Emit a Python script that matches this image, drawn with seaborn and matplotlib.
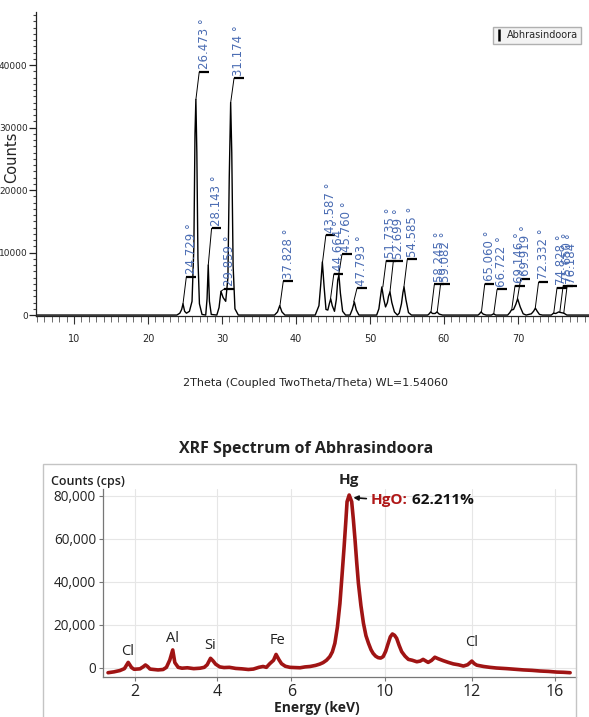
import numpy as np
import matplotlib
matplotlib.use('Agg')
import matplotlib.pyplot as plt
import seaborn as sns
from matplotlib.lines import Line2D
from matplotlib.patches import Rectangle
from matplotlib.ticker import MultipleLocator, FuncFormatter

sns.set_theme(style='ticks')
plt.rcParams['font.family'] = ['DejaVu Sans']

# ---- XRD pattern ----
xrd_2theta = [4.9, 23.9, 24.3, 24.55, 24.73, 24.95, 25.2, 25.6, 25.95, 26.2,
              26.35, 26.47, 26.6, 26.75, 26.95, 27.3, 27.8, 27.98, 28.14, 28.3,
              28.55, 29.3, 29.6, 29.86, 30.15, 30.5, 30.8, 30.98, 31.17, 31.32,
              31.5, 31.75, 32.2, 37.1, 37.5, 37.8, 38.1, 38.5, 42.6, 43.1,
              43.35, 43.56, 43.8, 44.05, 44.3, 44.5, 44.69, 44.9, 45.2, 45.45,
              45.64, 45.8, 46.0, 46.3, 46.7, 47.3, 47.6, 47.88, 48.15, 48.5,
              50.9, 51.2, 51.4, 51.6, 51.85, 52.1, 52.35, 52.5, 52.7, 52.95,
              53.3, 53.7, 53.95, 54.25, 54.45, 54.6, 54.85, 55.2, 55.6, 57.8,
              58.0, 58.2, 58.45, 58.8, 59.05, 59.35, 59.8, 64.6, 64.8, 65.0,
              65.3, 65.7, 66.4, 66.7, 67.0, 68.6, 68.9, 69.1, 69.4, 69.7,
              69.95, 70.3, 70.7, 71.1, 71.8, 72.1, 72.35, 72.6, 72.9, 73.3,
              74.5, 74.8, 75.1, 75.5, 75.8, 76.2, 76.6, 79.6]
xrd_counts = [0, 0, 300, 900, 1800, 600, 300, 600, 2200, 11000,
              29000, 34500, 26000, 9000, 1800, 100, 0, 2600, 8000, 2200,
              100, 0, 1200, 3800, 2800, 2200, 6000, 22000, 34000, 26000,
              8000, 1000, 0, 0, 500, 1500, 500, 0, 0, 1500,
              5000, 8500, 4500, 900, 800, 1800, 2600, 1500, 600, 2500,
              5600, 6400, 3500, 600, 0, 0, 900, 2100, 800, 0,
              0, 1000, 2800, 4500, 2600, 1300, 2000, 3000, 3700, 2000,
              500, 0, 300, 1800, 3600, 4500, 2500, 400, 0, 0,
              200, 500, 250, 250, 500, 150, 0, 0, 200, 500,
              150, 0, 0, 200, 0, 0, 400, 800, 900, 1700,
              2600, 1300, 200, 0, 200, 600, 1100, 600, 100, 0,
              0, 300, 250, 500, 400, 300, 0, 0]

peak_pos = [24.729, 26.473, 28.143, 29.859, 31.174, 37.828, 43.587, 44.664,
            45.760, 47.793, 51.735, 52.699, 54.585, 58.245, 59.082, 65.060,
            66.722, 69.146, 69.919, 72.332, 74.828, 75.650, 76.184]
peak_top = [1800, 34500, 8000, 3800, 34000, 1500, 8500, 2600,
            6400, 2100, 4500, 3700, 4500, 500, 500, 500,
            200, 800, 2600, 1100, 300, 450, 300]
marker_h = [6100, 38900, 13900, 4200, 37900, 5400, 12800, 6600,
            9700, 4300, 8700, 8600, 8900, 4900, 4900, 5000,
            4100, 4700, 5800, 5300, 4400, 4700, 4600]
peak_labels = ['24.729 °', '26.473 °', '28.143 °', '29.859 °', '31.174 °',
               '37.828 °', '43.587 °', '44.664 °', '45.760 °', '47.793 °',
               '51.735 °', '52.699 °', '54.585 °', '58.245 °', '59.082 °',
               '65.060 °', '66.722 °', '69.146 °', '69.919 °', '72.332 °',
               '74.828 °', '75.650 °', '76.184 °']

# ---- XRF spectrum (traced) ----
xrf_energy = [1.36, 1.5, 1.64, 1.75, 1.84, 1.92, 1.98, 2.05, 2.12, 2.2,
              2.25, 2.3, 2.36, 2.45, 2.55, 2.67, 2.75, 2.83, 2.9, 2.95,
              3.03, 3.12, 3.25, 3.4, 3.55, 3.65, 3.72, 3.8, 3.86, 3.92,
              4.02, 4.12, 4.25, 4.4, 4.55, 4.7, 4.82, 4.95, 5.05, 5.13,
              5.21, 5.3, 5.36, 5.43, 5.49, 5.58, 5.69, 5.8, 5.93, 6.05,
              6.17, 6.3, 6.4, 6.48, 6.56, 6.64, 6.7, 6.76, 6.82, 6.88,
              6.93, 6.98, 7.02, 7.05, 7.1, 7.16, 7.2, 7.24, 7.28, 7.32,
              7.38, 7.44, 7.5, 7.56, 7.62, 7.67, 7.73, 7.79, 7.85, 7.91,
              7.97, 8.03, 8.08, 8.13, 8.18, 8.23, 8.29, 8.35, 8.43, 8.51,
              8.6, 8.71, 8.79, 8.86, 8.92, 8.98, 9.06, 9.14, 9.22, 9.34,
              9.46, 9.58, 9.7, 9.82, 9.92, 10.02, 10.08, 10.14, 10.3, 10.45,
              10.6, 10.85, 11.05, 11.25, 11.45, 11.64, 11.85, 12.04, 12.2, 12.36]
xrf_counts = [-2200, -1800, -1200, -300, 2600, 200, -600, -500, -400, 600,
              1400, 700, -500, -700, -900, -700, 300, 3700, 8400, 2500,
              300, -100, 100, -300, -100, 300, 1500, 4500, 3300, 1800,
              500, 200, 300, -200, -400, -700, -500, 300, 700, 300,
              2000, 3600, 6300, 3800, 2000, 800, 300, 200, 100, 500,
              700, 1200, 1800, 2500, 3600, 5300, 7500, 11500, 19000, 30000,
              43000, 56400, 68000, 77300, 80400, 77300, 69000, 59500, 49000, 39400,
              29000, 20800, 15000, 11500, 8500, 6800, 5500, 4800, 4600, 5300,
              7800, 11500, 14500, 15800, 15200, 13800, 10500, 7600, 5500, 4000,
              3600, 2900, 3200, 4000, 3300, 2600, 3500, 5000, 4300, 3400,
              2600, 1900, 1500, 900, 1500, 3200, 2000, 1300, 700, 300,
              0, -300, -600, -900, -1100, -1400, -1600, -1900, -2000, -2200]

element_labels = ['Cl', 'Al', 'Si', 'Fe', 'Cl']
element_x = [1.82, 2.90, 3.80, 5.39, 10.02]
element_y = [7700, 13500, 10500, 12900, 11900]

xrf_tick_pos = [2, 3.95, 5.72, 7.95, 10.02, 12.0]
xrf_tick_labels = ['2', '4', '6', '10', '12', '16']
xrf_yticks = [0, 20000, 40000, 60000, 80000]

W, H = 589, 717
fig = plt.figure(figsize=(W / 100, H / 100), dpi=100)
fig.patch.set_facecolor('white')

# ================= XRD panel =================
ax1 = fig.add_axes([36 / W, 1 - 316 / H, 1 - 36 / W, (316 - 12) / H])
ax1.set_facecolor('white')
sns.lineplot(x=xrd_2theta, y=xrd_counts, ax=ax1, color='black', lw=1.0)

for pos, top, mh, lab in zip(peak_pos, peak_top, marker_h, peak_labels):
    ax1.plot([pos, pos + 0.45], [top, mh], color='black', lw=0.7)
    ax1.plot([pos + 0.45, pos + 1.75], [mh, mh], color='black', lw=1.6,
             solid_capstyle='butt')
    ax1.text(pos + 1.1, mh + 400, lab, rotation=90, ha='center', va='bottom',
             color='#4a6cb3', fontsize=8.5, clip_on=False)

ax1.set_xlim(36 / 7.4, W / 7.4)
ax1.set_ylim(-150, 48500)
ax1.xaxis.set_major_locator(MultipleLocator(10))
ax1.xaxis.set_minor_locator(MultipleLocator(1))
ax1.yaxis.set_major_locator(MultipleLocator(10000))
ax1.yaxis.set_minor_locator(MultipleLocator(1000))
for s in ['top', 'right']:
    ax1.spines[s].set_visible(False)
for s in ['left', 'bottom']:
    ax1.spines[s].set_linewidth(0.9)
    ax1.spines[s].set_color('#222222')
narrow = ['Liberation Sans Narrow', 'DejaVu Sans']
ax1.tick_params(axis='x', which='major', length=6, width=0.8, pad=7,
                labelsize=7, color='#333333')
ax1.tick_params(axis='x', which='minor', length=4, width=0.6, color='#555555')
ax1.tick_params(axis='y', which='major', length=5, width=0.9, pad=1,
                labelsize=6.5, color='#222222')
ax1.tick_params(axis='y', which='minor', length=2, width=0.8, color='#444444')
for t in ax1.get_xticklabels() + ax1.get_yticklabels():
    t.set_family(narrow)
ax1.set_xlabel('')
ax1.set_ylabel('')
ax1.grid(False)

fig.text(12 / W, 1 - 157 / H, 'Counts', rotation=90, ha='center', va='center',
         fontsize=10.5, color='#222222')
fig.text(315 / W, 1 - 383 / H, '2Theta (Coupled TwoTheta/Theta) WL=1.54060',
         ha='center', va='center', fontsize=8, family=narrow, color='#222222')

handle = Line2D([0], [0], color='black', marker='|', linestyle='None',
                markersize=8, markeredgewidth=1.8)
leg = ax1.legend(handles=[handle], labels=['Abhrasindoora'], loc='upper right',
                 bbox_to_anchor=(586 / W, 1 - 22 / H),
                 bbox_transform=fig.transFigure, frameon=True, fancybox=False,
                 edgecolor='#b0b0b0', facecolor='#f3f3f3', framealpha=1,
                 handlelength=0.5, handletextpad=0.5, borderpad=0.35,
                 prop={'family': narrow, 'size': 7})

# ================= XRF panel =================
fig.patches.append(Rectangle((43 / W, -0.01), (576 - 43) / W, 1 - 464 / H + 0.01,
                             transform=fig.transFigure, fill=False,
                             edgecolor='#c4c4c4', lw=1.0))
bottom_font = ['Open Sans', 'DejaVu Sans']

ax2 = fig.add_axes([103 / W, 1 - 677 / H, (576 - 103) / W, (677 - 489) / H])
ax2.set_facecolor('white')
sns.lineplot(x=xrf_energy, y=xrf_counts, ax=ax2, color='#a01414', lw=2.6)

ax2.set_xlim(1.24, 12.5)
ax2.set_ylim(-4190, 83200)
ax2.set_xticks(xrf_tick_pos)
ax2.set_xticklabels(xrf_tick_labels)
ax2.set_yticks(xrf_yticks)
ax2.yaxis.set_major_formatter(FuncFormatter(lambda v, p: f'{v:,.0f}'))
ax2.grid(True, color='#e6e6e6', lw=0.8)
ax2.set_axisbelow(True)
for s in ['top', 'right']:
    ax2.spines[s].set_visible(False)
ax2.spines['left'].set_color('#777777')
ax2.spines['bottom'].set_color('#777777')
ax2.spines['left'].set_linewidth(0.9)
ax2.spines['bottom'].set_linewidth(0.9)
ax2.tick_params(axis='x', length=3, width=0.8, color='#777777', pad=2,
                labelsize=11.5, labelcolor='#222222')
ax2.tick_params(axis='y', length=3, width=0.8, color='#777777', pad=2,
                labelsize=9.8, labelcolor='#222222')
for t in ax2.get_xticklabels() + ax2.get_yticklabels():
    t.set_family(bottom_font)
ax2.set_xlabel('')
ax2.set_ylabel('')

for lab, ex, ey in zip(element_labels, element_x, element_y):
    ax2.text(ex, ey, lab, ha='center', va='center', fontsize=10.5,
             color='#222222', family=bottom_font)
ax2.text(7.10, 87400, 'Hg', ha='center', va='center', fontsize=11,
         weight='bold', color='#222222', family=bottom_font, clip_on=False)

hgo = ax2.annotate('HgO:', xy=(7.2, 79200), xytext=(7.62, 77900),
                   ha='left', va='center', fontsize=11, weight='bold',
                   color='#b01818', family=bottom_font,
                   arrowprops=dict(arrowstyle='-|>', color='#111111', lw=1.2,
                                   mutation_scale=7, shrinkA=1, shrinkB=0))
ax2.annotate(' 62.211%', xy=(1, 0.5), xycoords=hgo, ha='left', va='center',
             fontsize=11, weight='bold', color='#111111', family=bottom_font)

fig.text(306 / W, 1 - 449 / H, 'XRF Spectrum of Abhrasindoora', ha='center',
         va='center', fontsize=11.5, weight='bold', color='#222222',
         family=bottom_font)
fig.text(51 / W, 1 - 481 / H, 'Counts (cps)', ha='left', va='center',
         fontsize=9, weight='semibold', color='#222222', family=bottom_font)
fig.text(317 / W, 1 - 708 / H, 'Energy (keV)', ha='center', va='center',
         fontsize=10, weight='bold', color='#222222', family=bottom_font)

fig.savefig('out.png', dpi=100)
